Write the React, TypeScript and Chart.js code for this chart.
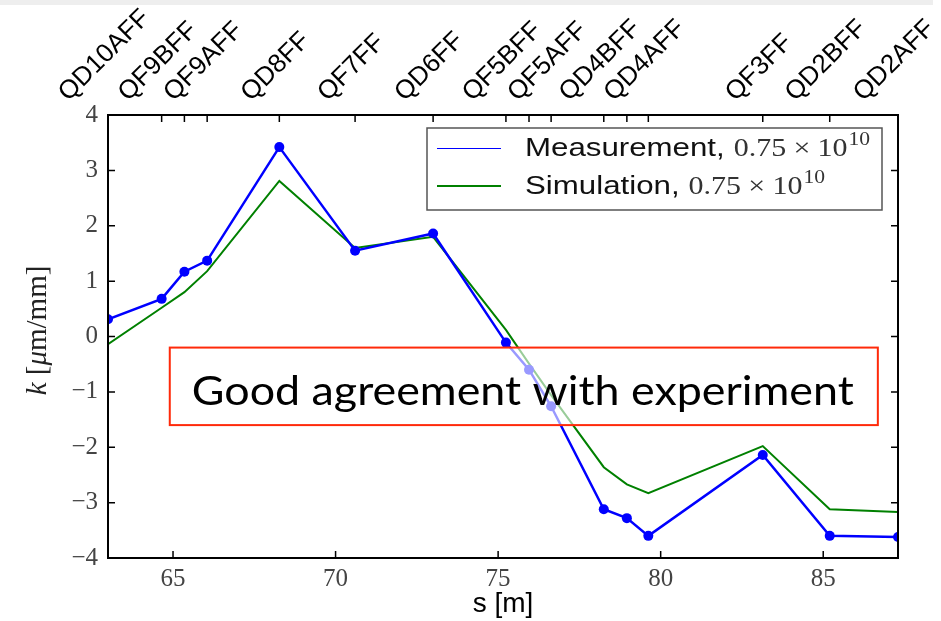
import React, { useEffect, useRef } from 'react';
import { Chart, registerables } from 'chart.js';

Chart.register(...registerables);

// ---- data ----
const sPositions = [63.0, 64.65, 65.35, 66.05, 68.27, 70.6, 73.0, 75.24, 75.95, 76.63, 78.25, 78.96, 79.62, 83.14, 85.2, 87.3];
const measuredK = [0.31, 0.68, 1.17, 1.37, 3.42, 1.55, 1.86, -0.11, -0.6, -1.26, -3.12, -3.28, -3.6, -2.14, -3.6, -3.62];
const simulatedK = [-0.14, 0.52, 0.8, 1.18, 2.81, 1.6, 1.8, 0.12, -0.49, -1.06, -2.36, -2.67, -2.83, -1.98, -3.12, -3.17];
const magnetLabels = ['QD10AFF', 'QF9BFF', 'QF9AFF', 'QD8FF', 'QF7FF', 'QD6FF', 'QF5BFF', 'QF5AFF', 'QD4BFF', 'QD4AFF', 'QF3FF', 'QD2BFF', 'QD2AFF'];
const magnetS = [63.0, 64.65, 66.05, 68.27, 70.6, 73.0, 75.24, 76.63, 78.25, 79.62, 83.14, 85.2, 87.3];
const xTickValues = [65, 70, 75, 80, 85];
const yTickValues = [-4, -3, -2, -1, 0, 1, 2, 3, 4];
const seriesLabels = ['Measurement,', 'Simulation,'];
const intensityMantissa = '0.75';
const intensityBase = '10';
const intensityExponent = '10';
const annotationText = 'Good agreement with experiment';
const xTitle = 's [m]';
// y title pieces: [text, italic]
const yTitleParts: [string, boolean][] = [['k', true], [' [', false], ['\u03bc', true], ['m/mm]', false]];

const SERIF = '"Liberation Serif", "DejaVu Serif", serif';
const SANS = '"Liberation Sans", Arial, sans-serif';

function fmtTick(v: number): string {
  return v < 0 ? '\u2212' + Math.abs(v) : String(v);
}

function stretchText(ctx: CanvasRenderingContext2D, text: string, x: number, y: number, sx: number): number {
  ctx.save();
  ctx.translate(x, y);
  ctx.scale(sx, 1);
  ctx.fillText(text, 0, 0);
  ctx.restore();
  return ctx.measureText(text).width * sx;
}

function drawMath(ctx: CanvasRenderingContext2D, x: number, y: number) {
  const size = 25;
  const sx = 1.2;
  ctx.fillStyle = '#333';
  ctx.font = `${size}px ${SERIF}`;
  let cx = x;
  cx += stretchText(ctx, intensityMantissa, cx, y, sx);
  cx += size * 0.24 * sx;
  cx += stretchText(ctx, '\u00d7', cx, y, sx);
  cx += size * 0.24 * sx;
  cx += stretchText(ctx, intensityBase, cx, y, sx);
  ctx.font = `${Math.round(size * 0.7)}px ${SERIF}`;
  stretchText(ctx, intensityExponent, cx + 1, y - size * 0.45, sx);
}

const decorPlugin = {
  id: 'decor',
  afterDraw(chart: any) {
    const { ctx, chartArea: ca, scales } = chart;
    const xs = scales.x;
    const ys = scales.y;
    ctx.save();

    // frame
    ctx.strokeStyle = '#000';
    ctx.lineWidth = 2;
    ctx.strokeRect(ca.left, ca.top, ca.right - ca.left, ca.bottom - ca.top);

    // inward ticks
    const tl = 7;
    ctx.lineWidth = 1.5;
    ctx.beginPath();
    xTickValues.forEach((v) => {
      const px = xs.getPixelForValue(v);
      ctx.moveTo(px, ca.bottom);
      ctx.lineTo(px, ca.bottom - tl);
    });
    sPositions.forEach((v) => {
      const px = xs.getPixelForValue(v);
      ctx.moveTo(px, ca.top);
      ctx.lineTo(px, ca.top + tl);
    });
    yTickValues.forEach((v) => {
      const py = ys.getPixelForValue(v);
      ctx.moveTo(ca.left, py);
      ctx.lineTo(ca.left + tl, py);
      ctx.moveTo(ca.right, py);
      ctx.lineTo(ca.right - tl, py);
    });
    ctx.stroke();

    // magnet labels (rotated 45deg)
    ctx.fillStyle = '#000';
    const lfs = 26;
    ctx.font = `${lfs}px ${SANS}`;
    ctx.textAlign = 'center';
    ctx.textBaseline = 'alphabetic';
    const capH = lfs * 0.716;
    magnetLabels.forEach((lab, i) => {
      const px = xs.getPixelForValue(magnetS[i]);
      const L = ctx.measureText(lab).width;
      const half = ((L + capH) * Math.SQRT1_2) / 2;
      ctx.save();
      ctx.translate(px - 5, ca.top - 13 - half);
      ctx.rotate(-Math.PI / 4);
      ctx.fillText(lab, 0, capH / 2);
      ctx.restore();
    });

    // y title
    ctx.save();
    ctx.translate(46, (ca.top + ca.bottom) / 2 - 6);
    ctx.rotate(-Math.PI / 2);
    ctx.fillStyle = '#222';
    ctx.textAlign = 'left';
    const yfs = 29;
    const fontFor = (it: boolean) => `${it ? 'italic ' : ''}${yfs}px ${SERIF}`;
    let total = 0;
    yTitleParts.forEach(([t, it]) => {
      ctx.font = fontFor(it);
      total += ctx.measureText(t).width;
    });
    let cx = -total / 2;
    yTitleParts.forEach(([t, it]) => {
      ctx.font = fontFor(it);
      ctx.fillText(t, cx, 0);
      cx += ctx.measureText(t).width;
    });
    ctx.restore();

    // legend
    const lgX = ca.left + 319;
    const lgY = ca.top + 13;
    const lgW = 455;
    const lgH = 82;
    ctx.fillStyle = '#fff';
    ctx.fillRect(lgX, lgY, lgW, lgH);
    ctx.strokeStyle = '#555';
    ctx.lineWidth = 1.5;
    ctx.strokeRect(lgX, lgY, lgW, lgH);
    ctx.textAlign = 'left';
    chart.data.datasets.forEach((ds: any, i: number) => {
      const cy = Math.round(lgY + 20 + i * 38);
      ctx.strokeStyle = ds.borderColor;
      ctx.lineWidth = i === 0 ? 1 : 2;
      ctx.beginPath();
      ctx.moveTo(lgX + 10, i === 0 ? cy + 0.5 : cy);
      ctx.lineTo(lgX + 74, i === 0 ? cy + 0.5 : cy);
      ctx.stroke();
      ctx.fillStyle = '#111';
      ctx.font = `25px ${SANS}`;
      const tw = stretchText(ctx, ds.label, lgX + 98, cy + 8, 1.25);
      drawMath(ctx, lgX + 98 + tw + 9, cy + 8);
    });

    // annotation box
    const bx = xs.getPixelForValue(64.9);
    const bx2 = xs.getPixelForValue(86.68);
    const by = ys.getPixelForValue(-0.2);
    const by2 = ys.getPixelForValue(-1.6);
    ctx.fillStyle = 'rgba(255,255,255,0.6)';
    ctx.fillRect(bx, by, bx2 - bx, by2 - by);
    ctx.strokeStyle = '#ff2a0a';
    ctx.lineWidth = 2;
    ctx.strokeRect(bx, by, bx2 - bx, by2 - by);
    ctx.fillStyle = '#000';
    ctx.font = `41px Lato, "Open Sans", sans-serif`;
    const natural = ctx.measureText(annotationText).width;
    const target = 662;
    stretchText(ctx, annotationText, bx + 22, by2 - 20, target / natural);

    ctx.restore();
  },
};

export default function App() {
  const canvasRef = useRef<HTMLCanvasElement | null>(null);

  useEffect(() => {
    const canvas = canvasRef.current;
    if (!canvas) return;
    const chart = new Chart(canvas, {
      type: 'line',
      data: {
        datasets: [
          {
            label: seriesLabels[0],
            data: sPositions.map((s, i) => ({ x: s, y: measuredK[i] })),
            borderColor: '#0000ff',
            backgroundColor: '#0000ff',
            pointBackgroundColor: '#0000ff',
            pointBorderColor: '#0000ff',
            borderWidth: 2.5,
            pointRadius: 5,
            pointBorderWidth: 0,
            tension: 0,
            clip: 0,
          },
          {
            label: seriesLabels[1],
            data: sPositions.map((s, i) => ({ x: s, y: simulatedK[i] })),
            borderColor: '#008000',
            backgroundColor: '#008000',
            borderWidth: 2,
            pointRadius: 0,
            tension: 0,
            clip: 0,
          },
        ],
      },
      options: {
        animation: false,
        responsive: false,
        events: [],
        layout: { padding: { top: 115, right: 43, left: 0, bottom: 0 } },
        plugins: { legend: { display: false }, tooltip: { enabled: false } },
        scales: {
          x: {
            type: 'linear',
            position: 'bottom',
            min: 63,
            max: 87.3,
            grid: { display: false },
            border: { display: false },
            afterBuildTicks: (s: any) => {
              s.ticks = xTickValues.map((v) => ({ value: v }));
            },
            afterFit: (s: any) => {
              s.height = 63;
            },
            ticks: {
              font: { family: SERIF, size: 25 },
              color: '#444',
              padding: -2,
              maxRotation: 0,
              autoSkip: false,
              callback: (v: any) => fmtTick(Number(v)),
            },
            title: {
              display: true,
              text: xTitle,
              font: { family: SANS, size: 28 },
              color: '#000',
              padding: { top: 0, bottom: 0 },
            },
          },
          y: {
            type: 'linear',
            min: -4,
            max: 4,
            grid: { display: false },
            border: { display: false },
            afterBuildTicks: (s: any) => {
              s.ticks = yTickValues.map((v) => ({ value: v }));
            },
            afterFit: (s: any) => {
              s.width = 108;
            },
            ticks: {
              font: { family: SERIF, size: 25 },
              color: '#444',
              padding: 2,
              autoSkip: false,
              callback: (v: any) => fmtTick(Number(v)),
            },
          },
        },
      },
      plugins: [decorPlugin],
    } as any);
    return () => chart.destroy();
  }, []);

  return (
    <div style={{ position: 'fixed', left: 0, top: 0, width: 941, height: 621, background: '#fff' }}>
      <div style={{ position: 'absolute', left: 0, top: 0, width: 933, height: 5, background: '#eeeeee' }} />
      <canvas ref={canvasRef} width={941} height={621} style={{ position: 'absolute', left: 0, top: 0 }} />
    </div>
  );
}
